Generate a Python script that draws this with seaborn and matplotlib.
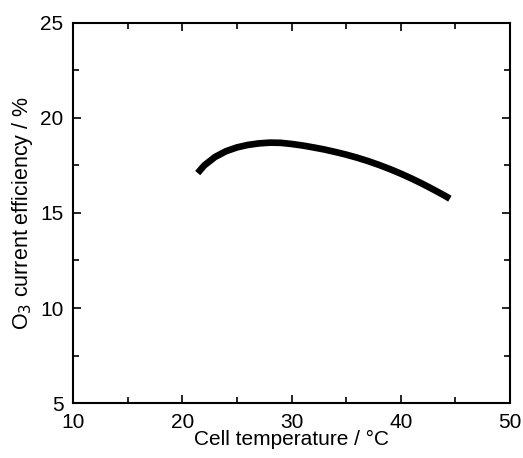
import seaborn as sns
import pandas as pd
import matplotlib.pyplot as plt
from matplotlib.ticker import MultipleLocator

# Cell temperature (°C) vs O3 current efficiency (%)
temperature = [21.4, 22, 23, 24, 25, 26, 27, 28, 29, 30, 31, 32, 33, 34, 35,
               36, 37, 38, 39, 40, 41, 42, 43, 44, 44.5]
efficiency = [17.1, 17.5, 17.95, 18.25, 18.45, 18.58, 18.66, 18.7, 18.69, 18.63,
              18.55, 18.45, 18.34, 18.21, 18.07, 17.91, 17.73, 17.53, 17.31, 17.07,
              16.81, 16.53, 16.23, 15.92, 15.75]

sns.set_style("ticks")
plt.rcParams['font.family'] = ['Liberation Sans', 'DejaVu Sans']
plt.rcParams['text.color'] = 'black'
plt.rcParams['axes.labelcolor'] = 'black'

df = pd.DataFrame({"temp": temperature, "eff": efficiency})

fig = plt.figure(figsize=(5.23, 4.58), dpi=100)
ax = fig.add_axes([0.14, 0.12, 0.835, 0.83])
sns.lineplot(data=df, x="temp", y="eff", ax=ax, color="black", linewidth=4.8,
             solid_capstyle="butt")

ax.set_xlim(10, 50)
ax.set_ylim(5, 25)
ax.xaxis.set_major_locator(MultipleLocator(10))
ax.xaxis.set_minor_locator(MultipleLocator(5))
ax.yaxis.set_major_locator(MultipleLocator(5))
ax.yaxis.set_minor_locator(MultipleLocator(2.5))
ax.tick_params(which="both", direction="in", top=True, right=True, width=1.2,
               labelsize=15, colors="black")
ax.tick_params(axis="x", which="major", pad=7)
ax.tick_params(axis="y", which="major", pad=7)
ax.tick_params(which="major", length=6)
ax.tick_params(which="minor", length=4)
for s in ax.spines.values():
    s.set_linewidth(1.5)
    s.set_color("black")

ax.set_xlabel("Cell temperature / °C", fontsize=15, labelpad=-1)
ax.set_ylabel("O$_3$ current efficiency / %", fontsize=15.5, labelpad=4)

fig.savefig("out.png", dpi=100)
